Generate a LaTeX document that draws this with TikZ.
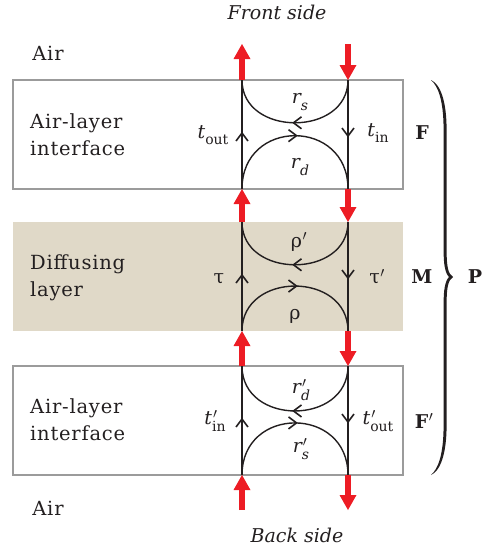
\documentclass[tikz,border=0pt]{standalone}
\usepackage{fontspec}
\setmainfont{DejaVu Serif}
\usetikzlibrary{arrows.meta,decorations.markings}
\definecolor{redarr}{RGB}{237,28,36}
\definecolor{beige}{RGB}{224,217,200}
\definecolor{boxgray}{RGB}{155,155,155}
\definecolor{ink}{RGB}{35,31,32}
\newcommand\lbsub[2]{{\itshape #1}\raisebox{-0.35em}{\fontsize{14}{14}\selectfont #2}}
\newcommand\lbpr[2]{{\itshape #1}\rlap{\kern1pt$^{\prime}$}\raisebox{-0.35em}{\fontsize{14}{14}\selectfont #2}}
\newcommand\gpr[1]{#1\kern0.5pt$^{\prime}$}
\begin{document}
\begin{tikzpicture}[x=1pt,y=-1pt,
  every node/.style={font=\fontsize{19}{27}\selectfont, text=ink, inner sep=0pt},
  layerbox/.style={draw=boxgray, line width=2pt, minimum width=390pt, minimum height=109pt},
  difbox/.style={fill=beige, minimum width=390pt, minimum height=109pt},
  redarrow/.style={draw=redarr, line width=6pt, -{Triangle[width=17pt,length=15pt,line width=0pt]}},
  flow/.style={draw=ink, line width=1.4pt, postaction={decorate},
    decoration={markings, mark=at position 0.5 with {\draw[ink, line width=1.6pt, line join=miter]
      (-6.5pt,-6pt) -- (1.5pt,0pt) -- (-6.5pt,6pt);}}},
  boldlab/.style={font=\fontsize{19}{22}\selectfont\bfseries},
  sidelab/.style={font=\fontsize{19}{22}\selectfont\itshape},
  widetext/.style={font=\fontsize{19.5}{27}\selectfont\addfontfeatures{LetterSpace=4}},
  txtblock/.style={widetext, align=left, anchor=west}]
\path[use as bounding box] (0,0) rectangle (483,550);
% layers
\node[layerbox] (F) at (208,134.5) {};
\node[difbox] (M) at (208,276.5) {};
\node[layerbox] (Fp) at (208,420.5) {};
% coordinates on the layer edges
\coordinate (Ftl) at (242,80);  \coordinate (Ftr) at (348,80);
\coordinate (Fbl) at (242,189); \coordinate (Fbr) at (348,189);
\coordinate (Mtl) at (242,222); \coordinate (Mtr) at (348,222);
\coordinate (Mbl) at (242,331); \coordinate (Mbr) at (348,331);
\coordinate (Gtl) at (242,366); \coordinate (Gtr) at (348,366);
\coordinate (Gbl) at (242,475); \coordinate (Gbr) at (348,475);
\coordinate (topL) at (242,44); \coordinate (topR) at (348,44);
\coordinate (botL) at (242,510); \coordinate (botR) at (348,510);
% black flows in F
\draw[flow] (Fbl) -- (Ftl);
\draw[flow] (Ftr) -- (Fbr);
\draw[flow] (Ftr) to[out=-90,in=-90,looseness=1.38] (Ftl);
\draw[flow] (Fbl) to[out=90,in=90,looseness=1.72] (Fbr);
% black flows in M
\draw[flow] (Mbl) -- (Mtl);
\draw[flow] (Mtr) -- (Mbr);
\draw[flow] (Mtr) to[out=-90,in=-90,looseness=1.38] (Mtl);
\draw[flow] (Mbl) to[out=90,in=90,looseness=1.45] (Mbr);
% black flows in F'
\draw[flow] (Gbl) -- (Gtl);
\draw[flow] (Gtr) -- (Gbr);
\draw[flow] (Gtr) to[out=-90,in=-90,looseness=1.45] (Gtl);
\draw[flow] (Gbl) to[out=90,in=90,looseness=1.68] (Gbr);
% red arrows
\draw[redarrow] (Ftl) -- (topL);
\draw[redarrow] (topR) -- (Ftr);
\draw[redarrow] (Mtl) -- (Fbl);
\draw[redarrow] (Fbr) -- (Mtr);
\draw[redarrow] (Gtl) -- (Mbl);
\draw[redarrow] (Mbr) -- (Gtr);
\draw[redarrow] (botL) -- (Gbl);
\draw[redarrow] (Gbr) -- (botR);
% side texts
\node[sidelab] (front) at (277,12) {Front side};
\node[sidelab] (back) at (297,535) {Back side};
\node[widetext] (airT) at (48,53) {Air};
\node[widetext] (airB) at (48,508) {Air};
\node[txtblock] (ifT) at (30,135) {Air-layer\\interface};
\node[txtblock] (dif) at (30,277.5) {Diffusing\\layer};
\node[txtblock] (ifB) at (30,420) {Air-layer\\interface};
% flow labels
\node (tout) at (213,135) {\lbsub{t}{out}};
\node (tin) at (378,133) {\lbsub{t}{in}};
\node (rs) at (300,102) {\lbsub{r}{\itshape s}};
\node (rd) at (300,167) {\lbsub{r}{\itshape d}};
\node (rhop) at (299,242) {\gpr{ρ}};
\node (rho) at (295,316) {ρ};
\node (tau) at (219,279) {τ};
\node (taup) at (377,277) {\gpr{τ}};
\node (rdp) at (301,390) {\lbpr{r}{\itshape d}};
\node (rsp) at (301,449) {\lbpr{r}{\itshape s}};
\node (tinp) at (215,421) {\lbpr{t}{in}};
\node (toutp) at (378,421) {\lbpr{t}{out}};
% layer letters
\node[boldlab] (labF) at (422,133) {F};
\node[boldlab] (labM) at (422,277) {M};
\node[boldlab] (labFp) at (424,421) {F\kern0.5pt$^{\prime}$};
\node[boldlab] (labP) at (475,277) {P};
% brace
\fill[ink] (431,80) .. controls (440,84) and (446.6,100) .. (446.6,130) -- (446.6,250)
  .. controls (446.6,266) and (448,274) .. (453,277)
  .. controls (448,280) and (446.6,288) .. (446.6,304) -- (446.6,425)
  .. controls (446.6,455) and (440,471) .. (431,475)
  .. controls (438,469) and (443.6,455) .. (443.6,425) -- (443.6,304)
  .. controls (443.6,290) and (445,281) .. (449,277)
  .. controls (445,273) and (443.6,264) .. (443.6,250) -- (443.6,130)
  .. controls (443.6,100) and (438,86) .. (431,80) -- cycle;
\end{tikzpicture}
\end{document}
